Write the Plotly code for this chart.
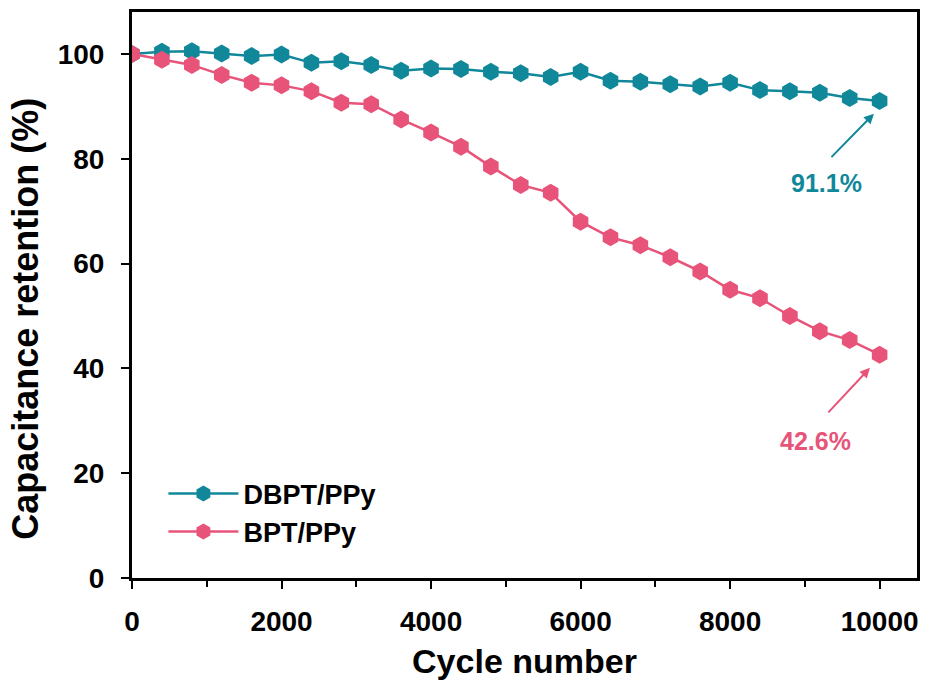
import plotly.graph_objects as go

cycles = [0, 400, 800, 1200, 1600, 2000, 2400, 2800, 3200, 3600, 4000, 4400, 4800,
          5200, 5600, 6000, 6400, 6800, 7200, 7600, 8000, 8400, 8800, 9200, 9600, 10000]
dbpt = [100.0, 100.4, 100.5, 100.1, 99.6, 99.9, 98.3, 98.6, 97.9, 96.8, 97.2, 97.1, 96.6,
        96.3, 95.6, 96.6, 94.9, 94.7, 94.2, 93.8, 94.5, 93.1, 92.9, 92.6, 91.6, 91.0]
bpt = [100.0, 98.9, 97.9, 96.0, 94.5, 94.0, 92.9, 90.7, 90.4, 87.5, 85.0, 82.3, 78.5,
       75.0, 73.5, 68.0, 65.0, 63.5, 61.2, 58.5, 55.0, 53.4, 50.0, 47.1, 45.4, 42.6]
x_ticks = [0, 2000, 4000, 6000, 8000, 10000]
x_ticktext = ["0", "2000", "4000", "6000", "8000", "10000"]
y_ticks = [0, 20, 40, 60, 80, 100]

TEAL = "#10889a"
PINK = "#e8537a"
FONT = "Liberation Sans, Arial, sans-serif"

fig = go.Figure()
fig.add_trace(go.Scatter(x=cycles, y=dbpt, name="DBPT/PPy", mode="lines+markers",
                         line=dict(color=TEAL, width=2.5),
                         marker=dict(symbol="hexagon", size=18, color=TEAL)))
fig.add_trace(go.Scatter(x=cycles, y=bpt, name="BPT/PPy", mode="lines+markers",
                         line=dict(color=PINK, width=2.5),
                         marker=dict(symbol="hexagon", size=18, color=PINK)))

axis_common = dict(showline=True, linecolor="black", linewidth=3, mirror=True,
                   ticks="outside", tickwidth=2, tickcolor="black", ticklen=8,
                   showgrid=False, zeroline=False,
                   tickfont=dict(family=FONT, size=28, color="black", weight="bold"))

fig.update_xaxes(range=[0, 10500], tickvals=x_ticks, ticktext=x_ticktext,
                 minor=dict(tickvals=[1000, 3000, 5000, 7000, 9000], ticks="outside",
                            ticklen=6, tickwidth=2, tickcolor="black"),
                 ticklabelstandoff=8,
                 title=dict(text="Cycle number", font=dict(family=FONT, size=34, color="black", weight="bold"),
                            standoff=14),
                 **axis_common)
fig.update_yaxes(range=[0, 108], tickvals=y_ticks,
                 ticklabelstandoff=11,
                 **axis_common)

# y-axis title placed as text
fig.add_annotation(xref="paper", yref="paper", x=-0.135, y=0.458,
                   text="Capacitance retention (%)", textangle=-90, showarrow=False,
                   xanchor="center", yanchor="middle",
                   font=dict(family=FONT, size=36, color="black", weight="bold"))

# arrows
fig.add_annotation(x=9924, y=88.6, ax=-44, ay=45, text="", showarrow=True,
                   arrowhead=2, arrowsize=1, arrowwidth=2, arrowcolor=TEAL)
fig.add_annotation(x=9871, y=40.1, ax=-43, ay=46, text="", showarrow=True,
                   arrowhead=2, arrowsize=1, arrowwidth=2, arrowcolor=PINK)
fig.add_annotation(x=9290, y=75.3, text="91.1%", showarrow=False,
                   font=dict(family=FONT, size=25, color=TEAL, weight="bold"))
fig.add_annotation(x=9140, y=26.2, text="42.6%", showarrow=False,
                   font=dict(family=FONT, size=25, color=PINK, weight="bold"))

fig.update_layout(
    width=929, height=689,
    margin=dict(l=132, r=9, t=10, b=111),
    paper_bgcolor="white", plot_bgcolor="white",
    legend=dict(x=0.04, y=0.192, xanchor="left", yanchor="top",
                font=dict(family=FONT, size=27, color="black", weight="bold"),
                bgcolor="rgba(0,0,0,0)", itemwidth=70, tracegroupgap=0),
)

fig.write_html("out.html")
